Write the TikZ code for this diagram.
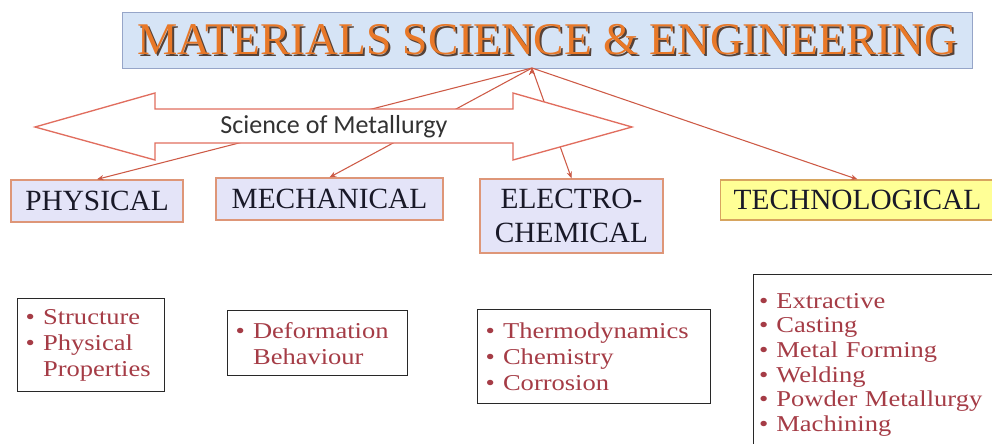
\documentclass[tikz,border=0pt]{standalone}
\usepackage{fontspec}
\setmainfont{Liberation Serif}
\newfontfamily\bandfont{Carlito}
\newfontfamily\itemfont[FakeStretch=1.17]{Liberation Serif}
\usetikzlibrary{arrows.meta}

\definecolor{titlefill}{RGB}{214,228,246}
\definecolor{titledraw}{RGB}{150,165,200}
\definecolor{titleorange}{RGB}{232,120,40}
\definecolor{titleshadow}{RGB}{85,65,55}
\definecolor{linkred}{RGB}{205,90,70}
\definecolor{bandred}{RGB}{225,110,95}
\definecolor{boxlavender}{RGB}{228,228,248}
\definecolor{boxorange}{RGB}{222,150,120}
\definecolor{techyellow}{RGB}{255,255,150}
\definecolor{techdraw}{RGB}{215,165,95}
\definecolor{boxtext}{RGB}{25,25,40}
\definecolor{itemred}{RGB}{165,60,70}
\definecolor{listgray}{RGB}{40,40,40}

\newcommand{\bulletmark}{\makebox[13pt][l]{\textbullet}}
\newcommand{\bulletgap}{\hspace*{13pt}}

\begin{document}
\begin{tikzpicture}[x=0.75pt,y=-0.75pt,
  topbox/.style={draw=boxorange,fill=boxlavender,line width=1pt,text=boxtext,
    font=\fontsize{22}{25.5}\selectfont,align=center,inner sep=0pt},
  listbox/.style={draw=listgray,fill=white,line width=1.1pt,anchor=north west,
    align=left,inner xsep=6pt,text=itemred,font=\itemfont\fontsize{17}{19.5}\selectfont},
  link/.style={draw=linkred,line width=0.8pt,-{Stealth[length=5pt,width=4pt]}},
  heading/.style={font=\fontsize{34}{36}\selectfont}
]
\useasboundingbox (0,0) rectangle (992,443);
\clip (0,0) rectangle (992,443);

% heading with its shadow
\draw (547,40) node[draw=titledraw,fill=titlefill,minimum width=637.5pt,minimum height=42pt] (title) {};
\draw (549,42) node[heading,text=titleshadow] (titleshade) {MATERIALS SCIENCE \& ENGINEERING};
\draw (547,40) node[heading,text=titleorange] (titlename) {MATERIALS SCIENCE \& ENGINEERING};
\coordinate (fan) at (532,68);

% the four branches
\draw (97,201) node[topbox,minimum width=129pt,minimum height=31.5pt] (physical) {PHYSICAL};
\draw (329.5,199) node[topbox,minimum width=170.25pt,minimum height=31.5pt] (mechanical) {MECHANICAL};
\draw (571.5,216) node[topbox,minimum width=137.25pt,minimum height=55.5pt] (electro) {ELECTRO-\\CHEMICAL};
\draw (857.5,200) node[topbox,fill=techyellow,draw=techdraw,minimum width=205.5pt,minimum height=30pt] (techno) {TECHNOLOGICAL};

\path[link] (fan) edge (physical.north);
\path[link] (fan) edge (mechanical.north);
\path[link] (fan) edge (electro.north);
\path[link] (fan) edge (techno.north);

% double block arrow over the links
\draw[draw=bandred,line width=1pt,fill=white,line join=miter]
  (35,127) -- (155,93) -- (155,109) -- (513,109) -- (513,93) -- (632,127)
  -- (513,160) -- (513,143) -- (155,143) -- (155,160) -- cycle;
\draw (334,127) node[font=\bandfont\fontsize{19.5}{22}\selectfont,text=black!80] (metallurgy) {Science of Metallurgy};

% topic lists
\draw (17,298) node[listbox,text width=98pt,minimum height=69.75pt] (physlist)
  {\bulletmark Structure\\ \bulletmark Physical\\ \bulletgap Properties};
\draw (227,310) node[listbox,text width=123pt,minimum height=48.75pt] (mechlist)
  {\bulletmark Deformation\\ \bulletgap Behaviour};
\draw (477,309) node[listbox,text width=162.75pt,minimum height=70.5pt] (electrolist)
  {\bulletmark Thermodynamics\\ \bulletmark Chemistry\\ \bulletmark Corrosion};
\draw (753,274) node[listbox,inner xsep=4pt,text width=187pt,minimum height=135pt,
  font=\itemfont\fontsize{17}{18.5}\selectfont] (technolist)
  {\bulletmark Extractive\\ \bulletmark Casting\\ \bulletmark Metal Forming\\
   \bulletmark Welding\\ \bulletmark Powder Metallurgy\\ \bulletmark Machining};
\end{tikzpicture}
\end{document}
